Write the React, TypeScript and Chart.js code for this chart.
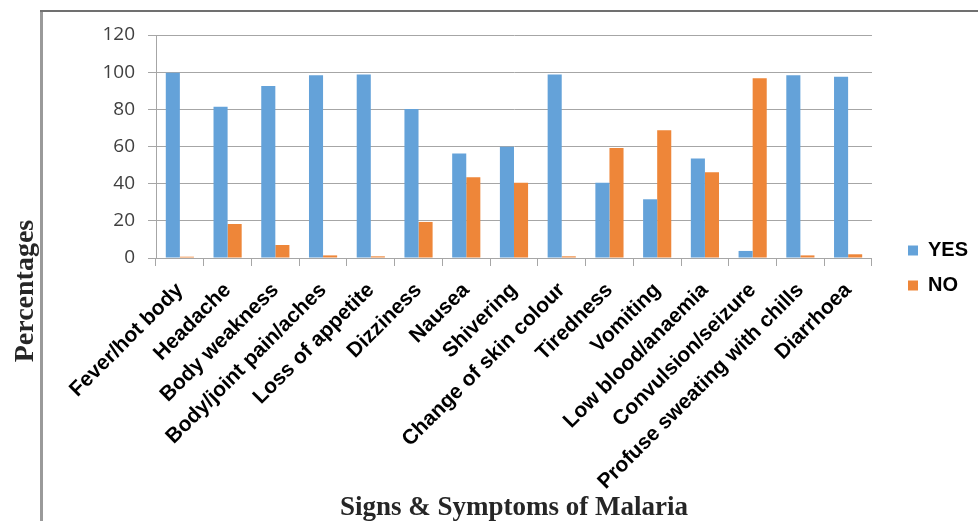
import { useEffect, useRef } from 'react';
import { Chart, registerables } from 'chart.js';

Chart.register(...registerables);

const categories = [
  'Fever/hot body',
  'Headache',
  'Body weakness',
  'Body/joint pain/aches',
  'Loss of appetite',
  'Dizziness',
  'Nausea',
  'Shivering',
  'Change of skin colour',
  'Tiredness',
  'Vomiting',
  'Low blood/anaemia',
  'Convulsion/seizure',
  'Profuse sweating with chills',
  'Diarrhoea',
];

const yesValues = [99.7, 81.4, 92.6, 98.3, 98.8, 80.2, 56.3, 59.9, 98.8, 40.5, 31.6, 53.6, 3.8, 98.3, 97.6];
const noValues = [0.7, 18.3, 7.0, 1.4, 0.9, 19.4, 43.4, 40.5, 0.9, 59.2, 68.7, 46.1, 96.7, 1.4, 2.0];

const seriesNames = ['YES', 'NO'];
const yMin = 0;
const yMax = 120;
const yStep = 20;
const xTitle = 'Signs & Symptoms of Malaria';
const yTitle = 'Percentages';

const framePlugin = {
  id: 'frameAndTitle',
  afterDraw(chart: any) {
    const ctx = chart.ctx;
    ctx.save();
    ctx.fillStyle = '#9a9a9a';
    ctx.fillRect(40, 10, 3, chart.height - 10);
    ctx.fillStyle = '#707070';
    ctx.fillRect(40, 10, chart.width - 40, 2);
    ctx.translate(33, 291);
    ctx.rotate(-Math.PI / 2);
    ctx.font = 'bold 28px "Liberation Serif"';
    ctx.fillStyle = '#262626';
    ctx.textAlign = 'center';
    ctx.textBaseline = 'alphabetic';
    ctx.fillText(yTitle, 0, 0);
    ctx.restore();
  },
};

export default function App() {
  const canvasRef = useRef<HTMLCanvasElement | null>(null);

  useEffect(() => {
    if (!canvasRef.current) return;
    const chart = new Chart(canvasRef.current, {
      type: 'bar',
      data: {
        labels: categories,
        datasets: [
          {
            label: seriesNames[0],
            data: yesValues,
            backgroundColor: '#64A2D9',
            borderWidth: 0,
            categoryPercentage: 0.59,
            barPercentage: 1.0,
          },
          {
            label: seriesNames[1],
            data: noValues,
            backgroundColor: '#EE8639',
            borderWidth: 0,
            categoryPercentage: 0.59,
            barPercentage: 1.0,
          },
        ],
      },
      options: {
        animation: false,
        responsive: true,
        maintainAspectRatio: false,
        devicePixelRatio: 1,
        layout: { padding: { top: 35, left: 0, right: 0, bottom: 20 } },
        plugins: {
          tooltip: { enabled: false },
          title: { display: false },
          legend: {
            position: 'right',
            align: 'center',
            labels: {
              boxWidth: 10,
              boxHeight: 10,
              padding: 15,
              color: '#000',
              font: { family: '"Liberation Sans", Arial, sans-serif', size: 20, weight: 'bold' },
            },
          },
        },
        scales: {
          x: {
            grid: {
              display: true,
              drawOnChartArea: false,
              drawTicks: true,
              tickLength: 8,
              color: '#A6A6A6',
              offset: true,
            },
            border: { color: '#A6A6A6' },
            ticks: {
              autoSkip: false,
              maxRotation: 45,
              minRotation: 45,
              padding: 12,
              color: '#000',
              font: { family: '"Liberation Sans", Arial, sans-serif', size: 21, weight: 'bold' },
            },
            title: {
              display: true,
              text: xTitle,
              color: '#262626',
              font: { family: '"Liberation Serif", serif', size: 27, weight: 'bold', lineHeight: 1 },
              padding: { top: 0, bottom: -20.5 },
            },
            afterFit(scale: any) {
              scale.height = 243;
            },
          },
          y: {
            min: yMin,
            max: yMax,
            ticks: {
              stepSize: yStep,
              padding: 13,
              color: '#404040',
              font: { family: '"Open Sans", sans-serif', size: 19 },
            },
            grid: {
              color: '#A6A6A6',
              tickLength: 8,
              drawTicks: true,
            },
            border: { color: '#A6A6A6' },
            afterFit(scale: any) {
              scale.width = 156;
            },
          },
          spacer: {
            type: 'linear',
            position: 'right',
            display: true,
            grid: { display: false, drawOnChartArea: false, drawTicks: false },
            ticks: { display: false },
            border: { display: false },
            afterFit(scale: any) {
              scale.width = 21;
            },
          },
        },
      },
      plugins: [framePlugin],
    } as any);
    return () => chart.destroy();
  }, []);

  return (
    <div style={{ position: 'absolute', left: 0, top: 0, width: 978, height: 521, background: '#fff' }}>
      <canvas ref={canvasRef} />
    </div>
  );
}
